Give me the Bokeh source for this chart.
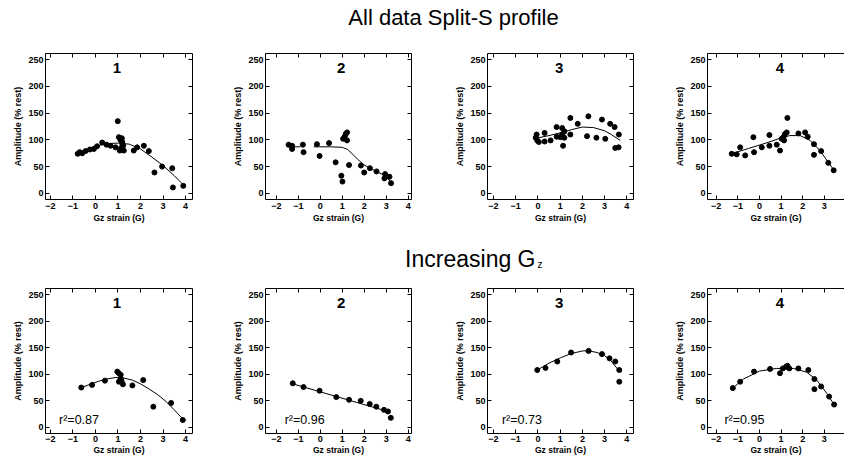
from bokeh.plotting import figure
from bokeh.layouts import column, row
from bokeh.models import Range1d, LinearAxis, FixedTicker, Spacer
from bokeh.core.properties import value
from bokeh.embed import file_html
from bokeh.resources import INLINE

nan = float("nan")
FONT = "Liberation Sans"

# ---------------- data ----------------
title_top = "All data Split-S profile"
title_bottom = "Increasing G"
title_bottom_sub = "z"
x_label_top = "Gz strain (G)"
x_label_bottom = "Gz strain (G)"
y_label = "Amplitude (% rest)"
x_ticks = [-2, -1, 0, 1, 2, 3, 4]
y_ticks = [0, 50, 100, 150, 200, 250]
panel_numbers = ["1", "2", "3", "4"]
r2_labels = ["r\u00b2=0.87", "r\u00b2=0.96", "r\u00b2=0.73", "r\u00b2=0.95"]

top1_x = [-0.79, -0.70, -0.59, -0.44, -0.25, -0.07, 0.07, 0.30, 0.49, 0.67, 0.89,
          1.04, 1.11, 1.19, 1.23, 1.14, 1.08, 1.26, 0.99, 1.20, 1.17,
          1.70, 1.85, 2.15, 2.37, 2.62, 2.96, 3.41, 3.44, 3.90]
top1_y = [74, 77, 75, 79, 82, 83, 88, 95, 91, 89, 86,
          105, 100, 96, 89, 85, 80, 80, 135, 92, 103,
          80, 86, 89, 79, 39, 50, 47, 11, 14]
top1_fit_x = [-0.8, -0.4, 0.0, 0.5, 1.0, 1.5, 2.0, 2.5, 3.0, 3.5, 3.9]
top1_fit_y = [75, 82, 88, 93, 94, 92, 83, 68, 52, 33, 16]

top2_x = [-1.44, -1.28, -1.28, -0.79, -0.76, -0.15, -0.03, 0.40, 0.70, 0.96, 1.01, 1.04, 1.11,
          1.16, 1.22, 1.22, 1.31, 1.85, 2.00, 2.26, 2.56, 2.95, 2.92, 3.15, 3.22]
top2_y = [91, 89, 83, 91, 77, 92, 70, 94, 58, 33, 22, 102, 106,
          111, 114, 99, 53, 52, 39, 47, 41, 36, 28, 31, 19]
top2_fit_x = [-1.5, -0.9, nan, -0.3, 0.5, 1.0, 1.25, 1.5, 1.75, 2.0, 2.3, 2.6, 2.9, 3.2]
top2_fit_y = [87, 87, nan, 87, 87, 86, 82, 72, 62, 53, 46, 40, 34, 22]

top3_x = [-0.10, -0.03, -0.06, 0.04, 0.30, 0.30, 0.57, 0.84, 0.84, 1.01, 1.09, 1.09, 1.13, 1.19,
          1.19, 1.46, 1.46, 1.79, 2.21, 2.27, 2.63, 2.88, 3.03, 3.25, 3.45, 3.48, 3.63, 3.64]
top3_y = [104, 99, 110, 96, 97, 113, 99, 106, 124, 105, 122, 110, 89, 116,
          104, 110, 141, 130, 107, 144, 104, 138, 102, 130, 124, 85, 86, 110]
top3_fit_x = [-0.1, 0.5, 1.0, 1.5, 2.0, 2.5, 3.0, 3.3, 3.7]
top3_fit_y = [103, 108, 113, 119, 124, 123, 117, 110, 99]

top4_x = [-1.28, -1.05, -0.89, -0.66, -0.28, -0.25, 0.11, 0.46, 0.46, 0.80, 0.95, 1.03, 1.11,
          1.18, 1.26, 1.29, 1.14, 1.80, 2.11, 2.23, 2.52, 2.52, 2.85, 3.18, 3.43]
top4_y = [74, 73, 86, 71, 105, 77, 86, 89, 109, 91, 80, 102, 105,
          111, 114, 141, 99, 112, 114, 106, 92, 72, 79, 57, 43]
top4_fit_x = [-1.28, -0.5, 0.3, 0.95, 1.4, 1.88, 2.34, 2.8, 3.18, 3.45]
top4_fit_y = [74, 84, 94, 103, 108, 108, 99, 80, 58, 43]

bot1_x = [-0.63, -0.15, 0.42, 0.97, 1.04, 1.12, 1.12, 1.16, 1.22, 1.04, 1.64, 2.12, 2.57, 3.36, 3.88]
bot1_y = [75, 80, 88, 105, 102, 99, 92, 87, 81, 86, 79, 89, 39, 46, 14]
bot1_fit_x = [-0.63, 0.15, 0.5, 0.9, 1.25, 1.64, 2.0, 2.39, 2.75, 3.13, 3.5, 3.88]
bot1_fit_y = [75, 87, 91, 94, 93, 89, 82, 72, 62, 49, 33, 16]

bot2_x = [-1.25, -0.76, -0.03, 0.73, 1.31, 1.84, 2.25, 2.55, 2.90, 3.08, 3.21]
bot2_y = [83, 76, 69, 57, 52, 50, 44, 39, 33, 30, 18]
bot2_fit_x = [-1.25, 3.15]
bot2_fit_y = [82, 29]

bot3_x = [-0.03, 0.34, 0.87, 1.49, 2.28, 2.88, 3.22, 3.48, 3.66, 3.66]
bot3_y = [108, 112, 124, 141, 144, 138, 130, 124, 108, 86]
bot3_fit_x = [-0.03, 0.5, 1.01, 1.5, 2.01, 2.3, 2.66, 3.0, 3.25, 3.66]
bot3_fit_y = [108, 121, 131, 139, 144, 144, 141, 135, 127, 106]

bot4_x = [-1.23, -0.89, -0.25, 0.49, 0.95, 1.08, 1.23, 1.29, 1.38, 1.80, 2.26, 2.54, 2.54, 2.85, 3.22, 3.45]
bot4_y = [74, 86, 105, 110, 102, 111, 114, 116, 111, 111, 108, 91, 72, 77, 58, 43]
bot4_fit_x = [-1.23, -0.74, 0.0, 0.8, 1.57, 2.18, 2.65, 3.11, 3.45]
bot4_fit_y = [74, 91, 106, 111, 111, 104, 89, 64, 43]

# ---------------- layout ----------------
TOTAL_W = 844
LEAD = 8
col_xlim = [(-2.22, 4.31), (-2.49, 4.15), (-2.27, 4.30), (-2.40, 3.93)]
col_width = [220, 222, 220, 174]
col_left = [37, 37, 37, 37]
col_right = [36, 39, 37, 0]
Y_RANGE = (-11.5, 261.5)


def style_axis(ax, labels=True, tick_standoff=3):
    ax.minor_tick_line_color = None
    ax.major_tick_in = 4
    ax.major_tick_out = 0
    ax.axis_line_color = "black"
    ax.axis_line_width = 1
    ax.major_tick_line_color = "black"
    ax.major_label_text_font = FONT
    if labels:
        ax.major_label_text_font_style = "bold"
        ax.major_label_text_font_size = "9px"
        ax.major_label_text_color = "black"
        ax.major_label_standoff = tick_standoff
    else:
        ax.major_label_text_color = None
        ax.major_label_text_font_size = "1px"
        ax.major_label_standoff = 0


def panel(ci, xs, ys, fx, fy, num, height, top_b, bottom_b, xlabel, r2=None,
          tick_standoff=3, label_standoff=1):
    p = figure(width=col_width[ci], height=height,
               x_range=Range1d(*col_xlim[ci]), y_range=Range1d(*Y_RANGE),
               output_backend="svg", toolbar_location=None, tools="",
               min_border_left=col_left[ci], min_border_right=col_right[ci],
               min_border_top=top_b, min_border_bottom=bottom_b,
               x_axis_location=None, y_axis_location=None)
    p.outline_line_color = None
    p.grid.visible = False
    p.background_fill_color = "white"
    p.border_fill_color = "white"

    xb = LinearAxis(ticker=FixedTicker(ticks=x_ticks), axis_label=xlabel)
    style_axis(xb, True, tick_standoff)
    xb.axis_label_text_font = FONT
    xb.axis_label_text_font_style = "bold"
    xb.axis_label_text_font_size = "8.5px"
    xb.axis_label_text_color = "black"
    xb.axis_label_standoff = label_standoff
    p.add_layout(xb, "below")

    yl = LinearAxis(ticker=FixedTicker(ticks=y_ticks), axis_label=y_label)
    style_axis(yl, True, 2)
    yl.axis_label_text_font = FONT
    yl.axis_label_text_font_style = "bold"
    yl.axis_label_text_font_size = "9px"
    yl.axis_label_text_color = "black"
    yl.axis_label_standoff = 2
    p.add_layout(yl, "left")

    xt = LinearAxis(ticker=FixedTicker(ticks=x_ticks))
    style_axis(xt, False)
    p.add_layout(xt, "above")
    if col_right[ci] > 0:
        yr = LinearAxis(ticker=FixedTicker(ticks=y_ticks))
        style_axis(yr, False)
        p.add_layout(yr, "right")

    p.line(fx, fy, line_color="black", line_width=1)
    p.scatter(xs, ys, size=5, fill_color="black", line_color="black")
    p.text(x=[0.95], y=[234], text=[num], text_align="center", text_baseline="middle",
           text_font=value(FONT), text_font_style="bold", text_font_size="15px",
           text_color="black")
    if r2 is not None:
        p.text(x=[-1.62], y=[13], text=[r2], text_align="left", text_baseline="middle",
               text_font=value(FONT), text_font_size="12.5px", text_color="black")
    return p


def title_fig(height):
    t = figure(width=TOTAL_W, height=height, x_range=Range1d(0, TOTAL_W),
               y_range=Range1d(height, 0),
               output_backend="svg", toolbar_location=None, tools="", min_border=0,
               x_axis_location=None, y_axis_location=None)
    t.outline_line_color = None
    t.grid.visible = False
    return t


t1 = title_fig(34)
t1.text(x=[453], y=[16.5], text=[title_top], text_align="center", text_baseline="middle",
        text_font=value(FONT), text_font_size="22px", text_color="black")

t2 = title_fig(48)
t2.text(x=[535], y=[32.5], text=[title_bottom], text_align="right", text_baseline="middle",
        text_font=value(FONT), text_font_size="23px", text_color="black")
t2.text(x=[537], y=[38], text=[title_bottom_sub], text_align="left", text_baseline="middle",
        text_font=value(FONT), text_font_size="10px", text_color="black")

top_data = [(top1_x, top1_y, top1_fit_x, top1_fit_y), (top2_x, top2_y, top2_fit_x, top2_fit_y),
            (top3_x, top3_y, top3_fit_x, top3_fit_y), (top4_x, top4_y, top4_fit_x, top4_fit_y)]
bot_data = [(bot1_x, bot1_y, bot1_fit_x, bot1_fit_y), (bot2_x, bot2_y, bot2_fit_x, bot2_fit_y),
            (bot3_x, bot3_y, bot3_fit_x, bot3_fit_y), (bot4_x, bot4_y, bot4_fit_x, bot4_fit_y)]

top_row = [panel(i, *top_data[i], panel_numbers[i], 192, 19, 27, x_label_top)
           for i in range(4)]
bot_row = [panel(i, *bot_data[i], panel_numbers[i], 183, 14, 23, x_label_bottom,
                 r2=r2_labels[i], tick_standoff=2, label_standoff=0)
           for i in range(4)]

layout = column(t1,
                row(Spacer(width=LEAD, height=192), *top_row),
                t2,
                row(Spacer(width=LEAD, height=183), *bot_row))
open("out.html", "w").write(file_html(layout, INLINE))
